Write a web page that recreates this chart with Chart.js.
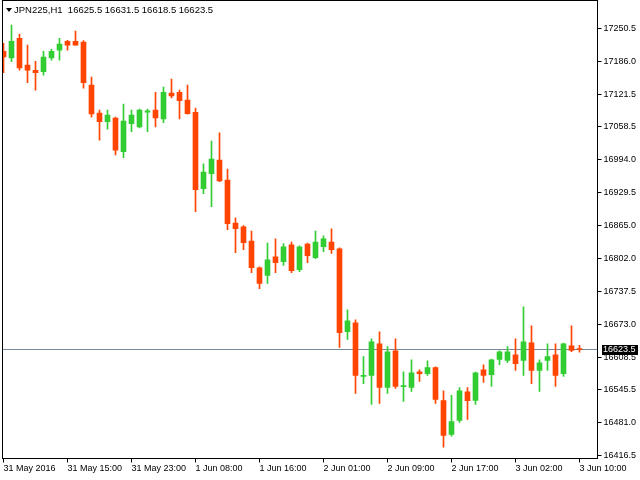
<!DOCTYPE html>
<html>
<head>
<meta charset="utf-8">
<script src="https://cdn.jsdelivr.net/npm/chart.js@4.4.1/dist/chart.umd.min.js"></script>
<style>
  body { margin: 0; background: #fff; }
  #wrap { position: relative; width: 640px; height: 480px; }
  #hdr {
    position: absolute; left: 6px; top: 4px;
    font: 9.5px "Liberation Sans", Arial, sans-serif; line-height: 11px;
    color: #000; white-space: pre;
  }
  #hdr .tri {
    display: inline-block; width: 0; height: 0; vertical-align: 1px;
    border-left: 3px solid transparent; border-right: 3px solid transparent;
    border-top: 4px solid #000; margin-right: 2px;
  }
</style>
</head>
<body>
<div id="wrap">
  <canvas id="chart" width="640" height="480"></canvas>
  <div id="hdr"></div>
</div>
<script>
// JPN225 H1 bars, oldest first
var openP = [17206, 17193, 17231.5, 17179, 17169, 17166, 17193, 17208, 17225.5, 17225.5,
  17224, 17140, 17085.5, 17068.5, 17075.5, 17010, 17064.5, 17058.5, 17087, 17091,
  17074, 17124.5, 17126, 17110.5, 17087, 16937.5, 16967, 16993.5, 16954.5, 16870.5,
  16863, 16835.5, 16783, 16768, 16804.5, 16795, 16828, 16779.5, 16829.5, 16803,
  16824.5, 16833.5, 16820, 16658.5, 16675.5, 16571, 16573, 16634.5, 16549.5, 16621,
  16551, 16549.5, 16580, 16576.5, 16588, 16523.5, 16457.5, 16485, 16541, 16524,
  16584, 16574.5, 16604, 16602, 16613, 16602, 16636.5, 16582.5, 16602, 16613,
  16576.5, 16630.5, 16625.5];
var highP = [17221.5, 17257, 17239.5, 17218, 17186.5, 17206, 17210, 17231.5, 17227.5, 17245.5,
  17227, 17155.5, 17091, 17091, 17077.5, 17103, 17091, 17093, 17093, 17126,
  17136, 17151.5, 17130, 17140, 17095, 16986, 17030.5, 17046.5, 16976, 16880.5,
  16865.5, 16855, 16785, 16831.5, 16839.5, 16830.5, 16833.5, 16826, 16831.5, 16855,
  16845.5, 16859, 16822, 16701, 16681.5, 16609.5, 16644.5, 16658, 16629, 16644.5,
  16580, 16603.5, 16584, 16601.5, 16589.5, 16543, 16534, 16549, 16549, 16579.5,
  16593.5, 16605, 16621, 16629, 16644.5, 16707, 16669.5, 16603.5, 16634.5, 16634.5,
  16636, 16669.5, 16631.5];
var lowP = [17164, 17185.5, 17169, 17144.5, 17130, 17159.5, 17188.5, 17188.5, 17208, 17218,
  17134, 17077.5, 17032.5, 17054, 17003.5, 16998, 17049, 17056.5, 17049, 17058.5,
  17066.5, 17115, 17074, 17083, 16892.5, 16928, 16902.5, 16951.5, 16857.5, 16812.5,
  16818.5, 16773.5, 16742.5, 16752.5, 16773.5, 16787.5, 16773.5, 16775.5, 16793, 16801,
  16814.5, 16811, 16627.5, 16643, 16537.5, 16557, 16516, 16518, 16537.5, 16547.5,
  16522, 16541.5, 16561, 16573, 16518, 16432.5, 16454, 16481, 16487, 16516,
  16559, 16551.5, 16594, 16598, 16582.5, 16573, 16557, 16541.5, 16582.5, 16551.5,
  16571, 16619.5, 16618.5];
var closeP = [17195, 17225.5, 17173.5, 17169, 17164, 17194.5, 17206, 17220, 17218, 17218,
  17144.5, 17083.5, 17068.5, 17081.5, 17013, 17069.5, 17081.5, 17091, 17089.5, 17076,
  17126, 17119, 17109.5, 17084, 16935.5, 16970, 16995.5, 16953, 16869.5, 16859.5,
  16832, 16783.5, 16752.5, 16798.5, 16793, 16824, 16777.5, 16824, 16807, 16833.5,
  16839.5, 16818.5, 16656.5, 16679.5, 16573, 16573, 16638.5, 16549.5, 16619, 16551.5,
  16553, 16578, 16576.5, 16588, 16526, 16455.5, 16482.5, 16543, 16523.5, 16578,
  16573, 16603.5, 16619, 16619, 16596, 16638.5, 16582.5, 16597.5, 16609.5, 16573,
  16634.5, 16621.5, 16623.5];

var timeTickBars = [0, 8, 16, 24, 32, 40, 48, 56, 64, 72];
var timeTickLabels = ["31 May 2016", "31 May 15:00", "31 May 23:00", "1 Jun 08:00", "1 Jun 16:00",
  "2 Jun 01:00", "2 Jun 09:00", "2 Jun 17:00", "3 Jun 02:00", "3 Jun 10:00"];
var priceTicks = [17250.5, 17186.0, 17121.5, 17058.5, 16994.0, 16929.5, 16865.0, 16802.0,
  16737.5, 16673.0, 16608.5, 16545.5, 16481.0, 16416.5];

var bullColor = '#32cd32';
var bearColor = '#ff4500';
var axisFont = { family: '"Liberation Sans", Arial, sans-serif', size: 9 };

var last = openP.length - 1;
var lastPrice = closeP[last];

document.getElementById('hdr').innerHTML = '<span class="tri"></span>JPN225,H1  ' +
  [openP[last], highP[last], lowP[last], closeP[last]].map(function (v) { return v.toFixed(1); }).join(' ');

var barColors = openP.map(function (o, i) { return closeP[i] > o ? bullColor : bearColor; });
var wicks = openP.map(function (o, i) { return { x: i, y: [lowP[i], highP[i]] }; });
var bodies = openP.map(function (o, i) { return { x: i, y: [o, closeP[i]] }; });

var mt4Plugin = {
  id: 'mt4',
  beforeDatasetsDraw: function (chart) {
    var ctx = chart.ctx, a = chart.chartArea;
    var py = Math.floor(chart.scales.y.getPixelForValue(lastPrice)) + 0.5;
    ctx.save();
    ctx.strokeStyle = '#778899';
    ctx.lineWidth = 1;
    ctx.beginPath();
    ctx.moveTo(a.left, py);
    ctx.lineTo(a.right, py);
    ctx.stroke();
    ctx.restore();
  },
  afterDraw: function (chart) {
    var ctx = chart.ctx, a = chart.chartArea;
    ctx.save();
    ctx.strokeStyle = '#000';
    ctx.lineWidth = 1;
    ctx.strokeRect(a.left, a.top, a.right - a.left, a.bottom - a.top);
    // current price marker on the axis
    var py = Math.floor(chart.scales.y.getPixelForValue(lastPrice));
    ctx.fillStyle = '#000';
    ctx.fillRect(Math.floor(a.right) + 5, py - 4, 36, 10);
    ctx.fillStyle = '#fff';
    ctx.font = '9px "Liberation Sans", Arial, sans-serif';
    ctx.textBaseline = 'middle';
    ctx.textAlign = 'left';
    ctx.fillText(lastPrice.toFixed(1), Math.floor(a.right) + 6, py + 1);
    ctx.restore();
  }
};

new Chart(document.getElementById('chart').getContext('2d'), {
  type: 'bar',
  data: {
    datasets: [{
      data: wicks,
      backgroundColor: barColors,
      borderWidth: 0,
      barThickness: 1,
      grouped: false
    }, {
      data: bodies,
      backgroundColor: barColors,
      borderWidth: 0,
      barThickness: 5,
      minBarLength: 1,
      grouped: false
    }]
  },
  options: {
    responsive: false,
    animation: false,
    layout: { padding: { left: 2.5, top: 0.5, right: 0, bottom: 0 } },
    plugins: { legend: { display: false }, tooltip: { enabled: false } },
    scales: {
      x: {
        type: 'linear',
        min: -0.125,
        max: 74.25,
        offset: false,
        border: { display: false },
        grid: { offset: false, drawOnChartArea: false, color: '#000', tickLength: 4 },
        afterBuildTicks: function (s) {
          s.ticks = timeTickBars.map(function (v) { return { value: v }; });
        },
        afterFit: function (s) {
          s.height = 21.5;
          s.paddingLeft = 0; s.paddingRight = 0;
        },
        ticks: {
          align: 'start', maxRotation: 0, autoSkip: false, padding: 1,
          color: '#000', font: axisFont,
          callback: function (v, i) { return timeTickLabels[i]; }
        }
      },
      y: {
        position: 'right',
        min: 16410.6,
        max: 17305.2,
        border: { display: false },
        grid: { drawOnChartArea: false, color: '#000', tickLength: 4 },
        afterBuildTicks: function (s) {
          s.ticks = priceTicks.map(function (v) { return { value: v }; });
        },
        afterFit: function (s) {
          s.width = 42.5;
          s.paddingTop = 0; s.paddingBottom = 0;
        },
        ticks: {
          padding: 2, color: '#000', font: axisFont,
          callback: function (v) { return v.toFixed(1); }
        }
      }
    }
  },
  plugins: [mt4Plugin]
});
</script>
</body>
</html>
